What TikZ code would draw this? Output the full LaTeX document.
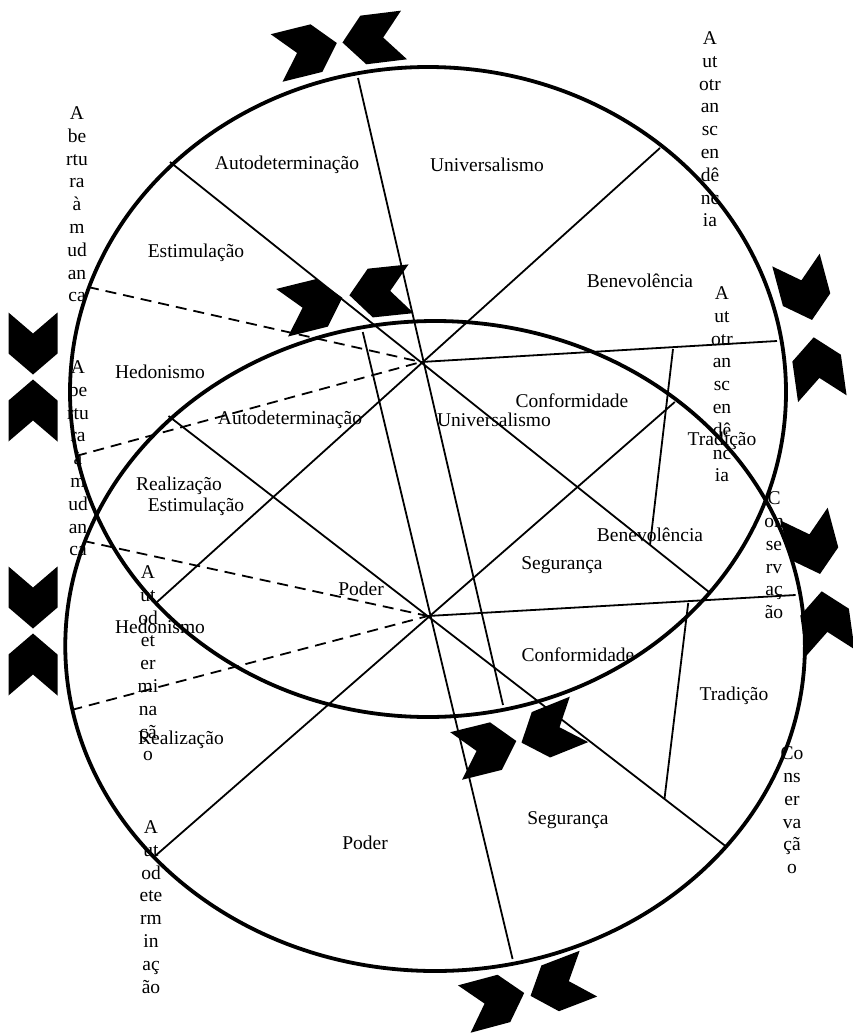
\documentclass[tikz,border=0pt]{standalone}
\usepackage{fontspec}
\setmainfont{Liberation Serif}
% one chevron: centre (x,y), direction of the tip in degrees
\newcommand\drawchev[3]{%
  \fill[shift={(#1,#2)}, rotate=#3]
    (-31,-24.5) -- (10,-24.5) -- (31,0) -- (10,24.5) -- (-31,24.5) -- (-10,0) -- cycle;}
% the value wheel: rim, spokes and dashed guides; #1 prefixes the coordinate names
\newcommand\wheel[1]{%
  \coordinate (#1c)   at (428,392);
  \coordinate (#1hub) at (421,362);
  \coordinate (#1nw)  at (170,162);
  \coordinate (#1se)  at (709,592);
  \coordinate (#1ne)  at (660,148);
  \coordinate (#1sw)  at (157,602);
  \coordinate (#1n)   at (358,78);
  \coordinate (#1s)   at (503,705);
  \coordinate (#1e)   at (777,341);
  \coordinate (#1tu)  at (673,349);
  \coordinate (#1tl)  at (650,545);
  \coordinate (#1wu)  at (88,287);
  \coordinate (#1wl)  at (76,456);
  \draw[rim] (#1c) ellipse [x radius=358, y radius=325];
  \draw[spoke] (#1nw) -- (#1se);
  \draw[spoke] (#1ne) -- (#1sw);
  \draw[spoke] (#1n) -- (#1s);
  \draw[spoke] (#1hub) -- (#1e);
  \draw[spoke] (#1tu) -- (#1tl);
  \draw[dashline] (#1wu) -- (#1hub);
  \draw[dashline] (#1wl) -- (#1hub);
}
\begin{document}
\begin{tikzpicture}[x=1pt, y=-1pt,
  lbl/.style={font=\fontsize{19.5}{22.8}\selectfont, inner sep=0pt},
  col/.style={lbl, align=center, anchor=north},
  rim/.style={line width=3.8pt},
  spoke/.style={line width=1.8pt},
  dashline/.style={line width=1.8pt, dash pattern=on 11pt off 7pt},
]
\useasboundingbox (0,0) rectangle (852,1034);

% upper wheel
\begin{scope}
  \wheel{a}
\end{scope}
% lower wheel, slightly wider
\begin{scope}[shift={(435,646)}, xscale=1.033, shift={(-428,-392)}]
  \wheel{b}
\end{scope}

% sector names, upper wheel
\node[lbl] (aauto) at (287,165) {Autodeterminação};
\node[lbl] (auniv) at (487,165) {Universalismo};
\node[lbl] (aesti) at (196,253) {Estimulação};
\node[lbl] (abene) at (640,281) {Benevolência};
\node[lbl] (ahedo) at (160,372) {Hedonismo};
\node[lbl] (aconf) at (572,401) {Conformidade};
\node[lbl] (atrad) at (722,441) {Tradição};
\node[lbl] (areal) at (179,486) {Realização};
\node[lbl] (asegu) at (562,565) {Segurança};
\node[lbl] (apode) at (361,589) {Poder};

% sector names, lower wheel
\node[lbl] (bauto) at (290,420) {Autodeterminação};
\node[lbl] (buniv) at (494,420) {Universalismo};
\node[lbl] (besti) at (196,507) {Estimulação};
\node[lbl] (bbene) at (650,535) {Benevolência};
\node[lbl] (bhedo) at (160,627) {Hedonismo};
\node[lbl] (bconf) at (578,655) {Conformidade};
\node[lbl] (btrad) at (734,696) {Tradição};
\node[lbl] (breal) at (181,740) {Realização};
\node[lbl] (bsegu) at (568,820) {Segurança};
\node[lbl] (bpode) at (365,843) {Poder};

% higher-order dimensions in narrow columns
\node[col] (atrans) at (710,31.5) {A\\ut\\otr\\an\\sc\\en\\dê\\nc\\ia};
\node[col] (btrans) at (722,286.5) {A\\ut\\otr\\an\\sc\\en\\dê\\nc\\ia};
\node[col] (aaber) at (77,106.5) {A\\be\\rtu\\ra\\à\\m\\ud\\an\\ca};
\node[col] (baber) at (78,360.5) {A\\be\\rtu\\ra\\à\\m\\ud\\an\\ca};
\node[col] (acons) at (774,491.5) {C\\on\\se\\rv\\aç\\ão};
\node[col] (bcons) at (792,746.5) {Co\\ns\\er\\va\\çã\\o};
\node[col] (aself) at (148,565.5) {A\\ut\\od\\et\\er\\mi\\na\\çã\\o};
\node[col] (bself) at (151,820.5) {A\\ut\\od\\ete\\rm\\in\\aç\\ão};

% chevron pairs
\drawchev{306.75}{50.5}{14}
\drawchev{373.25}{38.75}{187}
\drawchev{312.25}{305.25}{14}
\drawchev{380.25}{292}{186}
\drawchev{486.25}{748.5}{14}
\drawchev{550.25}{731}{202}
\drawchev{494.25}{1001}{15}
\drawchev{559.5}{984.75}{201}
\drawchev{33}{343.5}{-90}
\drawchev{33}{410.5}{90}
\drawchev{33}{597.5}{-90}
\drawchev{33}{664.5}{90}
\drawchev{804}{290}{-75}
\drawchev{818}{368}{98}
\drawchev{812}{544}{-75}
\drawchev{826}{622}{98}
\end{tikzpicture}
\end{document}
